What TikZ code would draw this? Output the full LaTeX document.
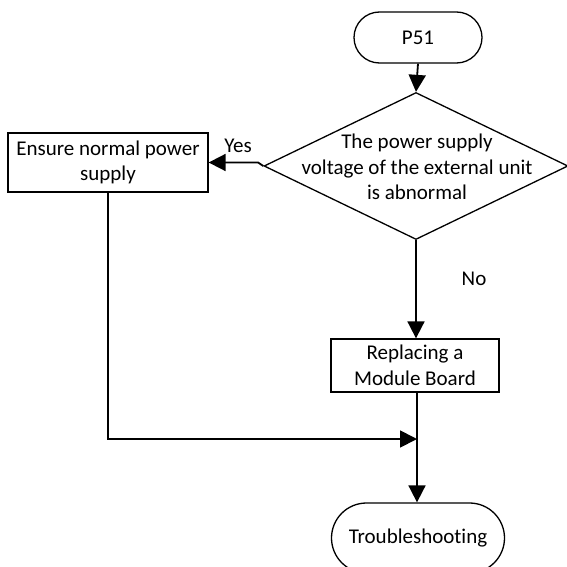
\documentclass[tikz,border=0pt]{standalone}
\usepackage{fontspec}
\setmainfont[Ligatures=NoCommon]{Carlito}
\usetikzlibrary{shapes.geometric,shapes.misc,arrows.meta}
\begin{document}
\begin{tikzpicture}[x=1pt,y=-1pt,
  every node/.style={font=\fontsize{21}{25.5}\selectfont},
  box/.style={draw,line width=1.3pt,rectangle,inner sep=0pt,align=center},
  term/.style={draw,line width=1.3pt,rounded rectangle,inner sep=0pt,align=center},
  dec/.style={draw,line width=1.3pt,diamond,inner sep=0pt},
  arr/.style={line width=1.8pt,-{Triangle[length=17pt,width=17pt]}},
  ln/.style={line width=1.8pt},
  lbl/.style={inner sep=0pt}]
\useasboundingbox (0,0) rectangle (566,567);
\node[term,minimum width=128pt,minimum height=51pt] (p51) at (418,37.5) {P51};
\node[dec,minimum width=304pt,minimum height=147pt] (d) at (416,166) {};
\node[lbl,align=center] (dt) at (417,167) {The power supply\\voltage of the external unit\\is abnormal};
\node[box,minimum width=200pt,minimum height=59pt] (ens) at (108,162.5) {Ensure normal power\\supply};
\node[box,minimum width=168pt,minimum height=53pt] (rep) at (415,365.5) {Replacing a\\Module Board};
\node[term,minimum width=173pt,minimum height=70pt] (tr) at (418,538) {Troubleshooting};
\node[lbl] (yes) at (238,146) {Yes};
\node[lbl] (no) at (474,279) {No};
\coordinate (yj) at (258,162.5);
\coordinate (m) at (417,439);
\coordinate (ec) at (108,439);
\draw[arr] (p51.south) -- (d.north);
\draw[arr] (d.west) -- (yj) -- (ens.east);
\draw[arr] (d.south) -- (d.south |- rep.north);
\draw[arr] (rep.south -| m) -- (m |- tr.north);
\draw[arr] (ens.south) -- (ec) -- (m);
\end{tikzpicture}
\end{document}
